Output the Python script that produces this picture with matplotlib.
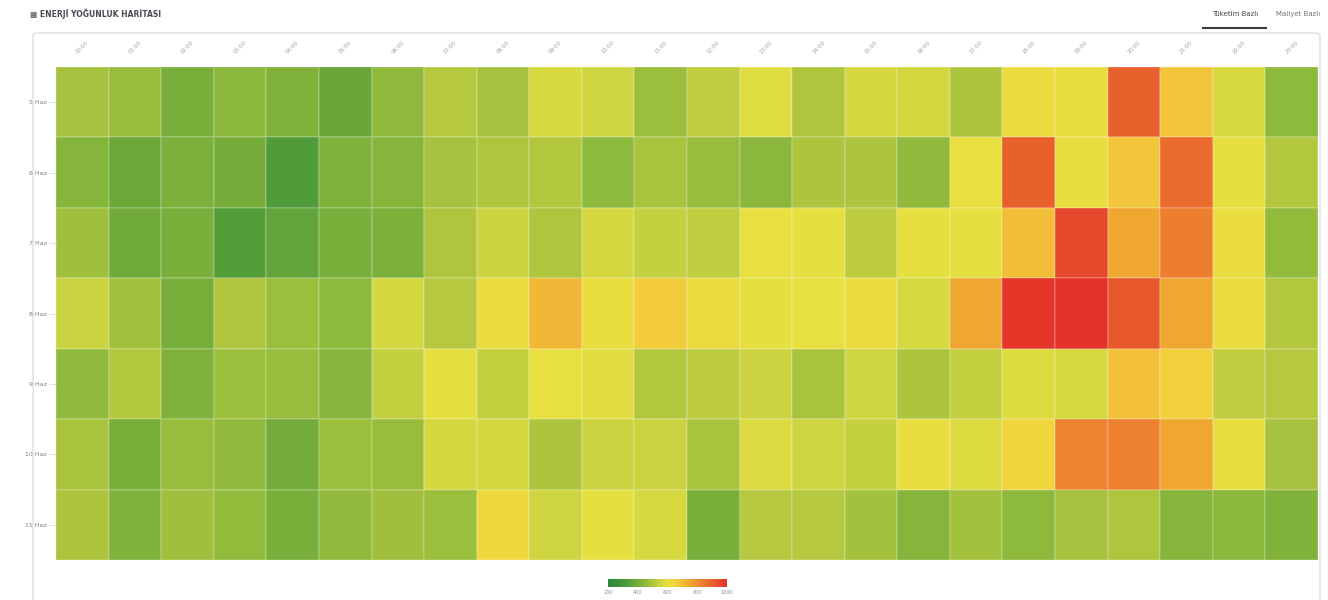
import matplotlib.pyplot as plt
import numpy as np
from matplotlib.colors import LinearSegmentedColormap, Normalize
from matplotlib.patches import FancyBboxPatch
from matplotlib.lines import Line2D

hours = [f"{h:02d}:00" for h in range(24)]
days = ["5 Haz", "6 Haz", "7 Haz", "8 Haz", "9 Haz", "10 Haz", "11 Haz"]

# tüketim değerleri (gün x saat)
energy = [
    [490, 465, 405, 440, 420, 375, 450, 515, 490, 570, 555, 470, 530, 585, 505, 565, 560, 500, 620, 610, 900, 680, 568, 445],
    [430, 380, 410, 400, 330, 420, 430, 490, 505, 510, 445, 495, 465, 440, 500, 500, 450, 605, 900, 610, 680, 880, 595, 510],
    [480, 390, 405, 340, 365, 405, 410, 505, 550, 505, 565, 540, 530, 605, 595, 525, 595, 595, 695, 950, 750, 840, 615, 455],
    [545, 485, 405, 505, 470, 445, 565, 515, 615, 710, 612, 665, 620, 595, 600, 615, 568, 750, 985, 995, 920, 750, 615, 510],
    [450, 510, 420, 470, 465, 430, 540, 595, 540, 600, 590, 510, 528, 548, 495, 555, 500, 535, 580, 568, 690, 655, 530, 515],
    [495, 405, 465, 450, 395, 470, 465, 565, 565, 500, 548, 548, 495, 575, 555, 540, 610, 580, 640, 825, 830, 750, 610, 490],
    [500, 420, 480, 455, 405, 450, 480, 470, 625, 555, 595, 568, 405, 515, 515, 485, 430, 485, 445, 490, 505, 430, 440, 420],
]
cbar_ticks = [200, 400, 600, 800, 1000]

vmin, vmax = 200, 1000
stops = [
    (200, "#2b873c"), (330, "#509c3a"), (400, "#76ad3a"), (450, "#90ba3c"),
    (500, "#acc43e"), (550, "#ccd440"), (600, "#e8e040"), (650, "#f2d23c"),
    (700, "#f2bc38"), (750, "#efa832"), (825, "#ee8430"), (900, "#e8622c"),
    (1000, "#e5302a"),
]
cmap = LinearSegmentedColormap.from_list(
    "enerji", [((v - vmin) / (vmax - vmin), c) for v, c in stops])
norm = Normalize(vmin, vmax)

W, H = 1328, 600
fig = plt.figure(figsize=(W / 100, H / 100), dpi=100)
fig.patch.set_facecolor("white")

# kart çerçevesi (eksenlerin arkasında)
card = FancyBboxPatch((33 / W, -0.02), (1320 - 33) / W, (H - 33) / H + 0.02,
                      boxstyle="round,pad=0,rounding_size=0.004",
                      transform=fig.transFigure, facecolor="white",
                      edgecolor="#e1e4ea", linewidth=1.2, zorder=-5)
fig.patches.append(card)

fig.text(30 / W, 1 - 14 / H, "▦ ENERJİ YOĞUNLUK HARİTASI", fontsize=5.5,
         fontweight="bold", color="#474b52", va="center", ha="left")
fig.text(1235 / W, 1 - 14 / H, "Tüketim Bazlı", fontsize=5, color="#40444a",
         va="center", ha="center")
fig.text(1298 / W, 1 - 14 / H, "Maliyet Bazlı", fontsize=5, color="#70747a",
         va="center", ha="center")
fig.lines.append(Line2D([1203 / W, 1266 / W], [1 - 28 / H, 1 - 28 / H],
                        transform=fig.transFigure, color="#3a3e44", lw=1.5))

ax = fig.add_axes([56 / W, 1 - 560 / H, (1318 - 56) / W, (560 - 67) / H])
ax.patch.set_alpha(0)
data = np.array(energy)
ax.pcolormesh(np.arange(len(hours) + 1), np.arange(len(days) + 1), data,
              cmap=cmap, norm=norm, edgecolors=(1, 1, 1, 0.15), linewidth=0.3)
ax.set_xlim(0, len(hours))
ax.set_ylim(len(days), 0)
ax.set_xticks(np.arange(len(hours)) + 0.5)
ax.set_xticklabels(hours, rotation=45, fontsize=4, color="#9a9ea4",
                   ha="center", va="center", rotation_mode="anchor")
ax.set_yticks(np.arange(len(days)) + 0.5)
ax.set_yticklabels(days, fontsize=4.5, color="#7a7e84")
ax.xaxis.tick_top()
ax.tick_params(axis="x", length=0, pad=14)
ax.tick_params(axis="y", length=5, width=0.5, color="#d0d4da", pad=1.5)
for s in ax.spines.values():
    s.set_visible(False)

cax = fig.add_axes([608 / W, 1 - 587 / H, (727 - 608) / W, 8 / H])
grad = np.linspace(vmin, vmax, 256).reshape(1, -1)
cax.imshow(grad, cmap=cmap, norm=norm, aspect="auto",
           extent=[vmin, vmax, 0, 1])
cax.set_yticks([])
cax.set_xticks(cbar_ticks)
cax.set_xticklabels([str(t) for t in cbar_ticks], fontsize=3.5, color="#8a8e94")
cax.tick_params(axis="x", length=0, pad=2)
for s in cax.spines.values():
    s.set_visible(False)

fig.savefig("out.png", dpi=100, facecolor="white")
